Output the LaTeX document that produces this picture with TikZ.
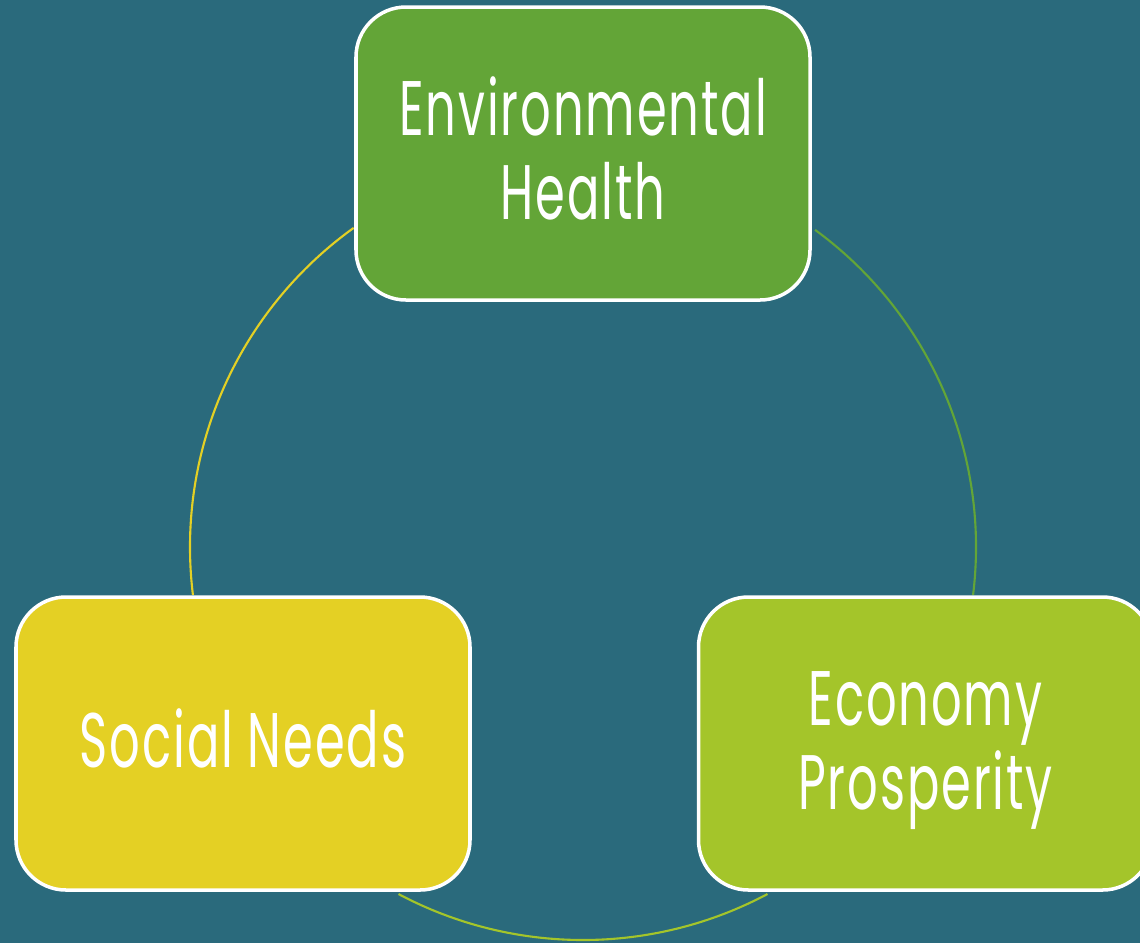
\documentclass[tikz,border=0pt]{standalone}
\usepackage{fontspec}
\setmainfont{Poppins}[LetterSpace=4]
\definecolor{bgteal}{HTML}{2A6A7C}
\definecolor{envgreen}{HTML}{63A537}
\definecolor{socyellow}{HTML}{E4D024}
\definecolor{ecolime}{HTML}{A4C52A}
\newcommand{\boxtext}[1]{\raisebox{-2pt}[\height][\depth]{\scalebox{0.62}[1]{\fontsize{22}{24}\selectfont\begin{tabular}{@{}c@{}}#1\end{tabular}}}}

\begin{document}
\begin{tikzpicture}[
    pillar/.style={draw=white, line width=1pt, rounded corners=0.5cm, minimum width=4.54cm, minimum height=2.93cm, text=white, inner sep=0pt},
    ring/.style={line width=0.6pt}
  ]
            \fill[bgteal] (0,0) rectangle (11.4,-9.43);
            \useasboundingbox (0,0) rectangle (11.4,-9.43);
            \coordinate (hub) at (5.83,-5.47);

            \draw[ring,socyellow] ([shift={(125.7:3.93)}]hub) arc[start angle=125.7, end angle=187, radius=3.93];
            \draw[ring,envgreen] ([shift={(53.8:3.93)}]hub) arc[start angle=53.8, end angle=-7, radius=3.93];
            \draw[ring,ecolime] ([shift={(242:3.93)}]hub) arc[start angle=242, end angle=298, radius=3.93];

            \node[pillar, fill=envgreen] (env) at (5.83,-1.535) {\boxtext{Environmental\\Health}};
            \node[pillar, fill=socyellow] (social) at (2.43,-7.435) {\boxtext{Social Needs}};
            \node[pillar, fill=ecolime] (economy) at (9.255,-7.435) {\boxtext{Economy\\Prosperity}};
        \end{tikzpicture}
\end{document}
